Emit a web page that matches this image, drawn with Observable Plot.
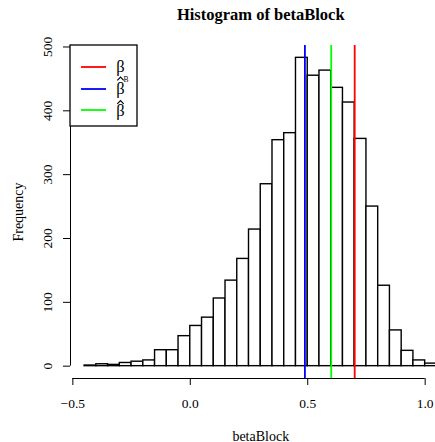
<!DOCTYPE html>
<html>
<head>
<meta charset="utf-8">
<script src="https://cdn.jsdelivr.net/npm/d3@7"></script>
<script src="https://cdn.jsdelivr.net/npm/@observablehq/plot@0.6"></script>
<style>
  body { margin: 0; background: #fff; }
  #chart svg { font-family: "Liberation Serif", "DejaVu Serif", serif; }
</style>
</head>
<body>
<div id="chart"></div>
<script>
// Histogram bins of betaBlock (lower edges, width 0.05) and their counts
const binStarts = [-0.45, -0.40, -0.35, -0.30, -0.25, -0.20, -0.15, -0.10, -0.05, 0.00,
                    0.05,  0.10,  0.15,  0.20,  0.25,  0.30,  0.35,  0.40,  0.45, 0.50,
                    0.55,  0.60,  0.65,  0.70,  0.75,  0.80,  0.85,  0.90,  0.95, 1.00];
const binWidth = 0.05;
const counts = [1, 3, 2, 5, 7, 9, 25, 25, 47, 63,
                76, 106, 134, 168, 214, 285, 354, 365, 483, 455,
                463, 436, 413, 356, 250, 126, 56, 24, 9, 4];

// Reference values drawn as vertical lines
const refKeys = ["beta", "betaHatB", "betaHat"];
const refValues = [0.7, 0.488, 0.6];
const refColors = ["#ff0000", "#0000ff", "#00ff00"];

// Axis ticks
const xTicks = [-0.5, 0, 0.5, 1.0];
const xTickLabels = ["\u22120.5", "0.0", "0.5", "1.0"];
const yTicks = [0, 100, 200, 300, 400, 500];

const bins = binStarts.map((x0, i) => ({x0, x1: x0 + binWidth, count: counts[i]}));
const refs = refValues.map((value, i) => ({key: refKeys[i], value, color: refColors[i]}));

// R-style 4% padding around the data ranges
const xLo = binStarts[0], xHi = binStarts[binStarts.length - 1] + binWidth;
const xPad = 0.04 * (xHi - xLo);
const xDom = [xLo - xPad, xHi + xPad];
const yHi = d3.max(counts);
const yDom = [-0.04 * yHi, yHi * 1.04];

const serif = `"Liberation Serif", "DejaVu Serif", serif`;

const plot = Plot.plot({
  width: 435,
  height: 442,
  marginLeft: 70,
  marginTop: 45,
  marginBottom: 64,
  marginRight: -15.5,
  style: {fontFamily: serif, fontSize: "13px", background: "white", color: "black"},
  x: {domain: xDom},
  y: {domain: yDom},
  marks: [
    Plot.rect(bins, {x1: "x0", x2: "x1", y1: 0, y2: "count", fill: "white", stroke: "black", strokeWidth: 1.4}),
    Plot.ruleX(refs, {x: "value", stroke: "color", strokeWidth: 1.8}),
    // axis lines spanning first to last tick
    Plot.ruleY([yDom[0]], {x1: xTicks[0], x2: xTicks[xTicks.length - 1], stroke: "black", strokeWidth: 1}),
    Plot.ruleX([xDom[0]], {y1: yTicks[0], y2: yTicks[yTicks.length - 1], stroke: "black", strokeWidth: 1}),
    Plot.axisX({ticks: xTicks, tickSize: 7, tickPadding: 13, label: null,
                tickFormat: d => xTickLabels[xTicks.indexOf(d)], fontSize: 13.5}),
    Plot.axisY({ticks: yTicks, tickSize: 7, tickPadding: 12, tickRotate: -90, label: null, fontSize: 13.5}),
    Plot.text(["Histogram of betaBlock"], {frameAnchor: "top", dy: -37, fontWeight: "bold", fontSize: 16.5}),
    Plot.text(["betaBlock"], {frameAnchor: "bottom", dy: 62, fontSize: 14}),
    Plot.text(["Frequency"], {frameAnchor: "left", dx: -52, rotate: -90, textAnchor: "middle", fontSize: 14})
  ]
});

// Legend box in the top-left corner of the plot region
const svg = d3.select(plot);
const lg = svg.append("g").attr("transform", "translate(70,45)").attr("font-family", serif);
lg.append("rect").attr("width", 67).attr("height", 81)
  .attr("fill", "white").attr("stroke", "black").attr("stroke-width", 1.3);
const rowY = [22, 44, 65];          // key line positions
const baseDy = [4.5, 5, 6];         // symbol baseline offsets
const hatApex = [null, -12, -9.5];  // circumflex apex offsets
const symX = 50.5;
refs.forEach((r, i) => {
  const g = lg.append("g").attr("transform", `translate(0,${rowY[i]})`);
  g.append("line").attr("x1", 11).attr("x2", 36).attr("y1", 0).attr("y2", 0)
    .attr("stroke", r.color).attr("stroke-width", 1.8);
  g.append("text").attr("x", symX).attr("y", baseDy[i])
    .attr("text-anchor", "middle").attr("font-size", 16.5).text("\u03b2");
  if (hatApex[i] !== null) {
    // circumflex hat over the beta
    const a = hatApex[i];
    g.append("path").attr("d", `M${symX - 3.2},${a + 3.3} L${symX},${a} L${symX + 3.2},${a + 3.3}`)
      .attr("fill", "none").attr("stroke", "black").attr("stroke-width", 1.1);
  }
  if (r.key === "betaHatB") {
    g.append("text").attr("x", symX + 5.5).attr("y", -7.5).attr("font-size", 7.5).text("B");
  }
});

document.getElementById("chart").appendChild(plot);
</script>
</body>
</html>
